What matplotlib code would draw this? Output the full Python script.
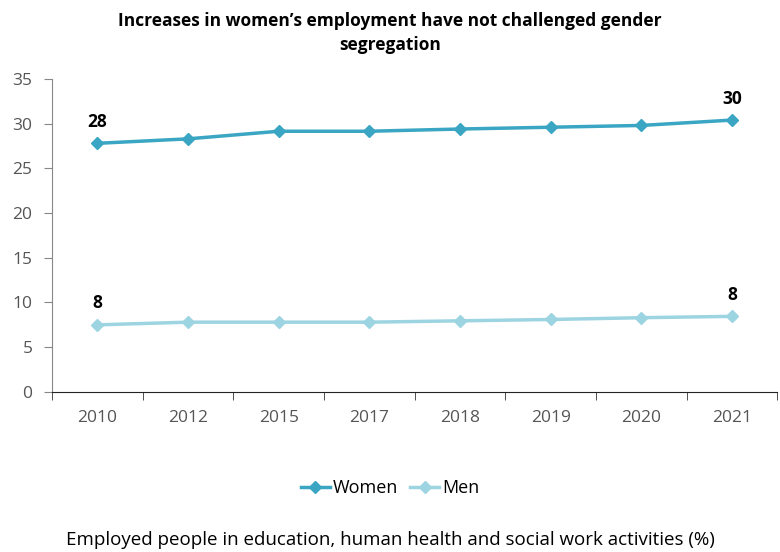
import numpy as np
import matplotlib.pyplot as plt

# DATOS
years = ['2010', '2012', '2015', '2017', '2018', '2019', '2020', '2021']
women = [27.8, 28.3, 29.15, 29.15, 29.4, 29.6, 29.8, 30.4]
men = [7.5, 7.8, 7.8, 7.8, 7.95, 8.1, 8.3, 8.45]
women_labels = {0: '28', 7: '30'}
men_labels = {0: '8', 7: '8'}

plt.rcParams['font.family'] = ['Open Sans', 'DejaVu Sans']

fig = plt.figure(figsize=(7.8, 5.52), dpi=100)
ax = fig.add_axes([0.0667, 0.29, 0.930, 0.567])

x = np.arange(len(years))
c_women = '#3aa6c3'
c_men = '#9dd4e1'
ax.plot(x, women, color=c_women, lw=2.5, marker='D', ms=6, label='Women')
ax.plot(x, men, color=c_men, lw=2.5, marker='D', ms=6, label='Men')

for i, t in women_labels.items():
    ax.annotate(t, (x[i], women[i]), xytext=(0, 9), textcoords='offset points',
                ha='center', va='bottom', fontsize=12.5, fontweight='bold')
for i, t in men_labels.items():
    ax.annotate(t, (x[i], men[i]), xytext=(0, 9), textcoords='offset points',
                ha='center', va='bottom', fontsize=12.5, fontweight='bold')

ax.set_xlim(-0.5, len(years) - 0.5)
ax.set_ylim(0, 35)
ax.set_yticks(range(0, 36, 5))
ax.set_xticks(x)
ax.set_xticklabels(years)
ax.set_xticks(np.arange(-0.5, len(years), 1), minor=True)
ax.tick_params(axis='x', which='major', length=0, pad=13, labelsize=12.5, labelcolor='#555555')
ax.tick_params(axis='x', which='minor', length=6, color='#333333')
ax.tick_params(axis='y', length=6, color='#888888', labelsize=12.5, labelcolor='#555555', pad=8)

ax.spines['top'].set_visible(False)
ax.spines['right'].set_visible(False)
ax.spines['left'].set_color('#888888')
ax.spines['bottom'].set_color('#222222')

fig.text(0.5, 0.978, 'Increases in women\u2019s employment have not challenged gender\nsegregation',
         ha='center', va='top', fontsize=12.5, fontweight='bold', linespacing=1.45)

fig.legend(loc='center', bbox_to_anchor=(0.5, 0.116), ncol=2, frameon=False,
           fontsize=13, handlelength=1.6, handletextpad=0.15, columnspacing=0.7)

fig.text(0.5, 0.022, 'Employed people in education, human health and social work activities (%)',
         ha='center', va='center', fontsize=13.5)

fig.savefig('out.png', dpi=100)
